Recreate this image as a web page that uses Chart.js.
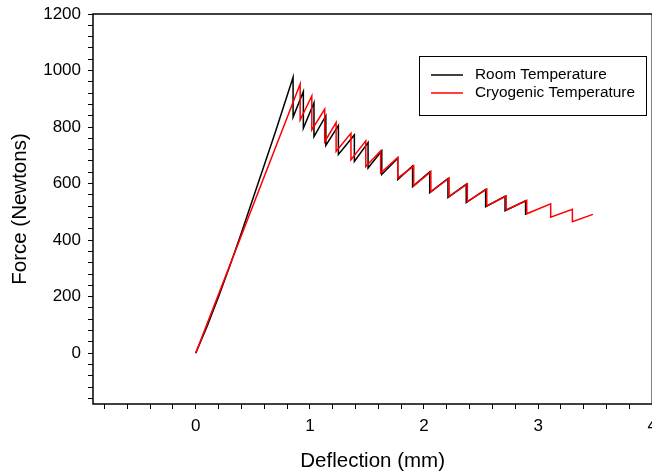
<!DOCTYPE html>
<html lang="en">
<head>
<meta charset="UTF-8">
<title>Force vs Deflection</title>
<script src="https://cdn.jsdelivr.net/npm/chart.js"></script>
<style>
  html, body { margin: 0; padding: 0; background: #fff; overflow: hidden; }
  .chart-container { position: relative; width: 664px; height: 474px; }
</style>
</head>
<body>
<div class="chart-container"><canvas id="forceChart"></canvas></div>
<script>
// Room temperature curve (deflection mm / force N), drops are vertical
const roomDeflection = [0, 0.1, 0.2, 0.3, 0.4, 0.5, 0.6, 0.7,
  0.853, 0.853, 0.943, 0.943, 1.036, 1.036, 1.14, 1.14, 1.25, 1.25,
  1.39, 1.39, 1.51, 1.51, 1.63, 1.63, 1.77, 1.77, 1.90, 1.90,
  2.05, 2.05, 2.21, 2.21, 2.37, 2.37, 2.54, 2.54, 2.71, 2.71, 2.89, 2.89];
const roomForce = [0, 95, 200, 310, 425, 545, 665, 785,
  976, 835, 925, 796, 886, 766, 840, 735, 805, 703,
  772, 678, 745, 655, 716, 632, 690, 614, 662, 589,
  641, 568, 618, 551, 598, 533, 579, 518, 555, 504, 539, 489];

// Cryogenic temperature curve
const cryoDeflection = [0, 0.915, 0.915, 1.017, 1.017, 1.13, 1.13, 1.23, 1.23,
  1.36, 1.36, 1.49, 1.49, 1.62, 1.62, 1.77, 1.77, 1.91, 1.91,
  2.06, 2.06, 2.22, 2.22, 2.38, 2.38, 2.55, 2.55, 2.72, 2.72,
  2.90, 2.90, 3.11, 3.11, 3.30, 3.30, 3.48];
const cryoForce = [0, 952, 825, 910, 790, 863, 748, 816, 714,
  778, 684, 751, 660, 716, 637, 692, 619, 662, 592,
  642, 571, 619, 554, 599, 536, 580, 521, 556, 507,
  540, 493, 528, 481, 509, 465, 491];

const seriesLabels = ['Room Temperature', 'Cryogenic Temperature'];
const seriesColors = ['#000000', '#ff0000'];

// axis ticks
const xMajorTicks = [0, 1, 2, 3, 4];
const yMajorTicks = [0, 200, 400, 600, 800, 1000, 1200];
const xRange = [-0.9, 4];
const yRange = [-180, 1200];

const xTickValues = [];
for (let k = 0; k <= 24; k++) xTickValues.push(Math.round((-0.8 + 0.2 * k) * 10) / 10);
const yTickValues = [];
for (let k = 0; k <= 34; k++) yTickValues.push(-160 + 40 * k);

function toPoints(xs, ys) {
    return xs.map((x, i) => ({ x: x, y: ys[i] }));
}

const fontFamily = '"Liberation Sans", Arial, Helvetica, sans-serif';

const frameBox = {
    id: 'frameBox',
    afterDraw(chart) {
        const { ctx, chartArea: a } = chart;
        ctx.save();
        ctx.strokeStyle = '#000';
        ctx.lineWidth = 1.5;
        ctx.strokeRect(a.left, a.top, a.right - a.left, a.bottom - a.top);
        ctx.restore();
    }
};

const boxLegend = {
    id: 'boxLegend',
    afterDraw(chart) {
        const ctx = chart.ctx;
        ctx.save();
        ctx.fillStyle = '#fff';
        ctx.fillRect(419.5, 56.5, 227, 59);
        ctx.strokeStyle = '#000';
        ctx.lineWidth = 1;
        ctx.strokeRect(419.5, 56.5, 227, 59);
        ctx.font = '15.4px ' + fontFamily;
        ctx.textBaseline = 'middle';
        chart.data.datasets.forEach((ds, i) => {
            const y = 75 + i * 18;
            ctx.strokeStyle = ds.borderColor;
            ctx.lineWidth = 1.5;
            ctx.beginPath();
            ctx.moveTo(431, y);
            ctx.lineTo(463, y);
            ctx.stroke();
            ctx.fillStyle = '#000';
            ctx.fillText(ds.label, 475, y);
        });
        ctx.restore();
    }
};

const ctx = document.getElementById('forceChart').getContext('2d');
new Chart(ctx, {
    type: 'scatter',
    data: {
        datasets: [
            {
                label: seriesLabels[0],
                data: toPoints(roomDeflection, roomForce),
                borderColor: seriesColors[0],
                borderWidth: 1.5,
                showLine: true,
                pointRadius: 0,
                tension: 0,
                order: 2
            },
            {
                label: seriesLabels[1],
                data: toPoints(cryoDeflection, cryoForce),
                borderColor: seriesColors[1],
                borderWidth: 1.5,
                showLine: true,
                pointRadius: 0,
                tension: 0,
                order: 1
            }
        ]
    },
    options: {
        responsive: true,
        maintainAspectRatio: false,
        animation: false,
        layout: { padding: { top: 0, right: 0, left: 0, bottom: 0 } },
        plugins: {
            legend: { display: false },
            tooltip: { enabled: false }
        },
        scales: {
            x: {
                type: 'linear',
                min: xRange[0],
                max: xRange[1],
                afterBuildTicks: s => { s.ticks = xTickValues.map(v => ({ value: v })); },
                afterFit: s => { s.height = 70; },
                ticks: {
                    autoSkip: false,
                    maxRotation: 0,
                    color: '#000',
                    padding: 7,
                    font: { family: fontFamily, size: 17 },
                    callback: v => xMajorTicks.some(m => Math.abs(m - v) < 1e-6) ? String(Math.round(v)) : ''
                },
                grid: { drawOnChartArea: false, drawTicks: true, tickLength: 5, color: '#000', lineWidth: 1 },
                border: { display: false },
                title: {
                    display: true,
                    text: 'Deflection (mm)',
                    color: '#000',
                    font: { family: fontFamily, size: 20.5 },
                    padding: { top: 0, bottom: 0 }
                }
            },
            y: {
                type: 'linear',
                min: yRange[0],
                max: yRange[1],
                afterBuildTicks: s => { s.ticks = yTickValues.map(v => ({ value: v })); },
                afterFit: s => { s.width = 93; s.paddingTop = 14; },
                ticks: {
                    autoSkip: false,
                    color: '#000',
                    padding: 7,
                    font: { family: fontFamily, size: 17 },
                    callback: v => yMajorTicks.includes(v) ? String(v) : ''
                },
                grid: { drawOnChartArea: false, drawTicks: true, tickLength: 5, color: '#000', lineWidth: 1 },
                border: { display: false },
                title: {
                    display: true,
                    text: 'Force (Newtons)',
                    color: '#000',
                    font: { family: fontFamily, size: 20.5 },
                    padding: { top: 8, bottom: 0 }
                }
            }
        }
    },
    plugins: [frameBox, boxLegend]
});
</script>
</body>
</html>
